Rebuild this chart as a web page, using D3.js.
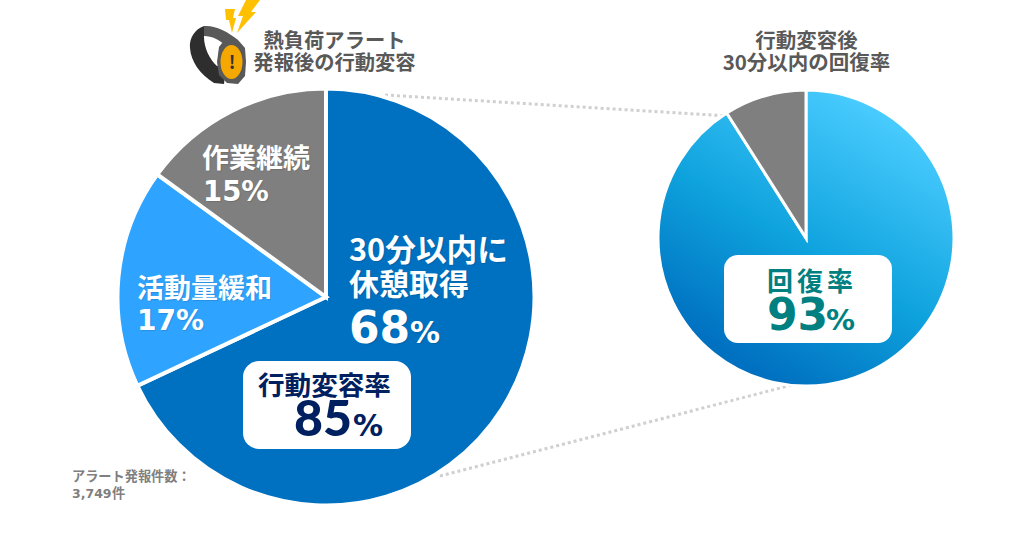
<!DOCTYPE html>
<html>
<head>
<meta charset="utf-8">
<script src="https://cdn.jsdelivr.net/npm/d3@7"></script>
<style>
  html, body { margin: 0; background: #fff; }
  text { font-family: "Noto Sans CJK JP", sans-serif; font-weight: 700; }
  .num { font-family: "DejaVu Sans", sans-serif; }
  .num85 { font-family: Lato, sans-serif; font-weight: 900; }
</style>
</head>
<body>
<svg id="chart"></svg>
<script>
// left pie: behaviour change after the alert
const behaviourCategories = ["30分以内に休憩取得", "活動量緩和", "作業継続"];
const behaviourValues = [68, 17, 15];
const behaviourColors = ["#0070c0", "#2ea3ff", "#7f7f7f"];
// right pie: the slice is drawn a little smaller than the printed 93%
const recoveryCategories = ["回復", "未回復"];
const recoveryValues = [91, 9];
const leftTitle = ["熱負荷アラート", "発報後の行動変容"];
const rightTitle = ["行動変容後", "30分以内の回復率"];
const noteLines = ["アラート発報件数：", "3,749件"];

const width = 1024;
const height = 535;

const svg = d3.select("#chart")
  .attr("width", width)
  .attr("height", height)
  .style("display", "block");

const defs = svg.append("defs");
const grad = defs.append("linearGradient")
  .attr("id", "recoveryFill")
  .attr("x1", "0.78").attr("y1", "0.08")
  .attr("x2", "0.28").attr("y2", "0.92");
grad.append("stop").attr("offset", "0").attr("stop-color", "#4accff");
grad.append("stop").attr("offset", "0.55").attr("stop-color", "#0ea2dd");
grad.append("stop").attr("offset", "1").attr("stop-color", "#0070c0");

const pie = d3.pie().sort(null);

// dotted connectors go under the pies
const connector = [[385, 95, 728, 116], [440, 476, 792, 385]];
svg.selectAll("line.connector")
  .data(connector)
  .enter()
  .append("line")
  .attr("class", "connector")
  .attr("x1", (d) => d[0]).attr("y1", (d) => d[1])
  .attr("x2", (d) => d[2]).attr("y2", (d) => d[3])
  .attr("stroke", "#d0d0d0")
  .attr("stroke-width", 3)
  .attr("stroke-dasharray", "3 3");

const leftArc = d3.arc().innerRadius(0).outerRadius(208.5);
svg.append("g")
  .attr("transform", "translate(326,297)")
  .selectAll("path")
  .data(pie(behaviourValues))
  .enter()
  .append("path")
  .attr("d", leftArc)
  .attr("fill", (d, i) => behaviourColors[i])
  .attr("stroke", "#fff")
  .attr("stroke-width", 4);

const rightArc = d3.arc().innerRadius(0).outerRadius(148);
const rightG = svg.append("g").attr("transform", "translate(806,238)");
// gradient spans the whole circle, so use one disc clipped by the slices
defs.append("clipPath").attr("id", "recoveryClip")
  .append("path")
  .attr("d", rightArc(pie(recoveryValues)[0]));
rightG.append("circle")
  .attr("r", 148)
  .attr("fill", "url(#recoveryFill)")
  .attr("clip-path", "url(#recoveryClip)");
rightG.selectAll("path.slice")
  .data(pie(recoveryValues))
  .enter()
  .append("path")
  .attr("class", "slice")
  .attr("d", rightArc)
  .attr("fill", (d, i) => (i === 0 ? "none" : "#7f7f7f"))
  .attr("stroke", "#fff")
  .attr("stroke-width", 3);

// one text element per block, each run is [dx from block x, baseline y, text, size, class]
const block = (x, color, runs, anchor) => {
  const t = svg.append("text").attr("fill", color).attr("text-anchor", anchor || "start");
  runs.forEach((r) => {
    t.append("tspan")
      .attr("class", r[4] || null)
      .attr("x", x + r[0])
      .attr("y", r[1])
      .attr("font-size", r[3])
      .style("letter-spacing", r[5] || null)
      .text(r[2]);
  });
  return t;
};

const shadow = "1px 1px 1px rgba(0,0,0,0.12)";

// titles
block(334.5, "#595959", leftTitle.map((t, i) => [0, 48 + i * 22, t, 20.3]), "middle");
block(806.5, "#595959", rightTitle.map((t, i) => [0, 48 + i * 22, t, 20.5]), "middle");

// left pie labels
block(349, "#fff", [
  [0, 261, "30分以内に", 30.7],
  [0, 295, "休憩取得", 30],
  [0, 343, behaviourValues[0], 44, "num"],
  [61, 343, "%", 30, "num"],
]).style("text-shadow", shadow);

block(137, "#fff", [
  [0, 298, "活動量緩和", 27],
  [0, 330, behaviourValues[1] + "%", 28, "num"],
]).style("text-shadow", shadow);
block(202, "#fff", [
  [0, 168, "作業継続", 27],
  [1, 201, behaviourValues[2] + "%", 27.5, "num"],
]).style("text-shadow", shadow);

// call-out boxes
svg.append("rect")
  .attr("x", 243).attr("y", 361)
  .attr("width", 168).attr("height", 88)
  .attr("rx", 16)
  .attr("fill", "#fff");
block(258, "#002060", [
  [0, 395, "行動変容率", 26.6],
  [36, 436, "85", 50, "num85"],
  [95, 436, "%", 30, "num"],
]);

svg.append("rect")
  .attr("x", 724).attr("y", 255)
  .attr("width", 168).attr("height", 88)
  .attr("rx", 14)
  .attr("fill", "#fff");
block(767, "#008080", [
  [0, 291, "回復率", 26, null, "4px"],
  [0, 330, "93", 44, "num"],
  [59, 330, "%", 29, "num"],
]);

// note
block(72, "#7f7f7f", [
  [0, 481, noteLines[0], 13.2],
  [0, 498, noteLines[1].replace("件", ""), 12.5, "num"],
  [40, 498, "件", 13.2],
]);

// alert watch icon
const icon = svg.append("g");
icon.append("path")
  .attr("d", "M204 26 C195 29 189 38 190 48 C191 62 200 74 214 83 L224 84 L226 66 L217 66 C210 60 204 48 204 37 Z")
  .attr("fill", "#2e2e2e");
icon.append("path")
  .attr("d", "M204 26 C216 25 228 32 238 40 L226 46 C220 40 212 36 204 36 Z")
  .attr("fill", "#595959");
icon.append("path")
  .attr("d", "M226 38 L238 40 L245 48 L246 62 L245 76 L238 84 L227 83 L219 75 L217 62 L219 47 Z")
  .attr("fill", "#595959");
icon.append("ellipse")
  .attr("cx", 231.5).attr("cy", 62).attr("rx", 11).attr("ry", 17)
  .attr("fill", "#f5a800");
block(232, "#333", [[0, 69, "!", 18]], "middle");
icon.append("path")
  .attr("d", "M225 9 L235 9 L233 18 L236 18 L232 33 L229 20 L226 20 Z")
  .attr("fill", "#ffc000");
icon.append("path")
  .attr("d", "M246 0 L260 0 L251 12 L256 12 L237 33 L243 16 L238 16 Z")
  .attr("fill", "#ffc000");
</script>
</body>
</html>
